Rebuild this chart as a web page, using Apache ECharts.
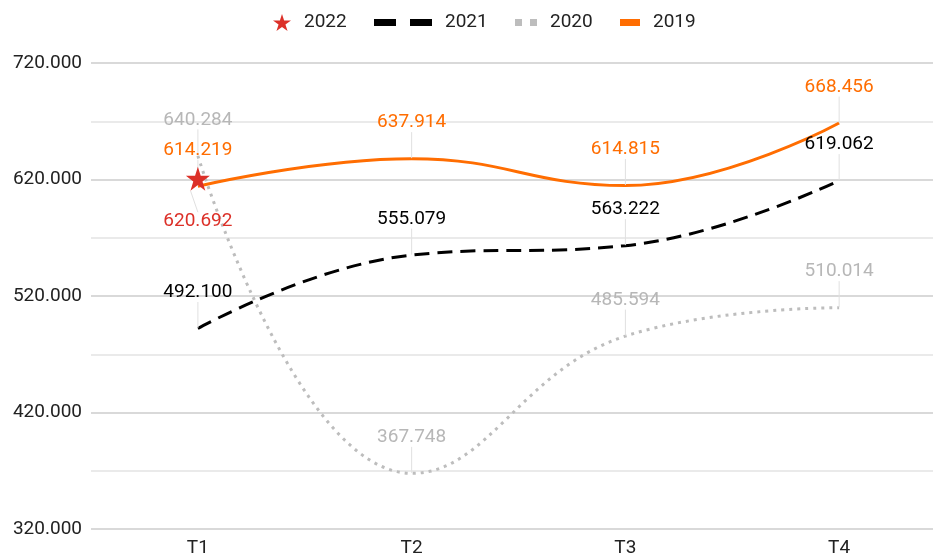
<!DOCTYPE html>
<html>
<head>
<meta charset="utf-8">
<script src="https://cdn.jsdelivr.net/npm/echarts@6/dist/echarts.min.js"></script>
<style>
html,body{margin:0;padding:0;background:#fff;overflow:hidden;width:933px;height:559px;}
#chart{width:960px;height:559px;}
</style>
</head>
<body>
<div id="chart"></div>
<script>
const categories = ['T1', 'T2', 'T3', 'T4'];
const values2022 = [620.692, null, null, null];
const values2021 = [492.1, 555.079, 563.222, 619.062];
const values2020 = [640.284, 367.748, 485.594, 510.014];
const values2019 = [614.219, 637.914, 614.815, 668.456];
const yMin = 320, yMax = 720, yStep = 100;

const FONT = 'Roboto';
const FS = 19;
const STAR = 'path://M50,0L61.2,34.5L97.6,34.5L68.2,55.9L79.4,90.5L50,69.1L20.6,90.5L31.8,55.9L2.4,34.5L38.8,34.5Z';
const C22 = '#dc3028', C21 = '#000000', C20 = '#bdbdbd', C19 = '#ff6d01';
const fmt = v => (v == null ? '' : Number(v).toFixed(3));

function lbl(color) {
  return {
    show: true, position: 'inside', color: color,
    fontFamily: FONT, fontSize: FS,
    formatter: p => fmt(p.value)
  };
}
const leader = { show: true, lineStyle: { color: '#e0e0e0', width: 1 } };

function legendItem(name, left, w, h, icon, color) {
  return {
    left: left, top: 8, itemWidth: w, itemHeight: h,
    textStyle: { fontFamily: FONT, fontSize: FS, color: '#222', padding: [0, 0, 0, 8] },
    data: [{ name: name, icon: icon, itemStyle: { color: color, borderWidth: 0 } }],
    selectedMode: false
  };
}

const chart = echarts.init(document.getElementById('chart'), null, { renderer: 'canvas' });
chart.setOption({
  animation: false,
  backgroundColor: '#fff',
  legend: [
    legendItem('2022', 268, 18, 18, STAR, C22),
    legendItem('2021', 369, 58, 7, 'path://M0,0h22v7h-22z M36,0h22v7h-22z', C21),
    legendItem('2020', 510, 22, 7, 'path://M0,0h7v7h-7z M15,0h7v7h-7z', C20),
    legendItem('2019', 615, 20, 7, 'rect', C19)
  ],
  grid: { left: 91, top: 63, width: 855, height: 466 },
  xAxis: {
    type: 'category', data: categories, boundaryGap: true,
    axisLine: { show: false }, axisTick: { show: false },
    axisLabel: { color: '#222', fontFamily: FONT, fontSize: FS, margin: 10 }
  },
  yAxis: {
    type: 'value', min: yMin, max: yMax, interval: yStep,
    axisLine: { show: false }, axisTick: { show: false },
    axisLabel: { color: '#222', fontFamily: FONT, fontSize: FS, margin: 9, formatter: v => fmt(v) },
    splitLine: { lineStyle: { color: '#cccccc', width: 1.5 } },
    minorTick: { show: false, splitNumber: 2 },
    minorSplitLine: { show: true, lineStyle: { color: '#e4e4e4', width: 1.5 } }
  },
  series: [
    {
      name: '2020', type: 'line', data: values2020, smooth: 0.45,
      symbol: 'circle', symbolSize: 1, showSymbol: true,
      itemStyle: { color: 'rgba(0,0,0,0)' },
      lineStyle: { color: C20, width: 3, type: [3, 5] },
      label: lbl('#b7b7b7'), labelLayout: { dy: -36 }, labelLine: leader
    },
    {
      name: '2021', type: 'line', data: values2021, smooth: 0.45,
      symbol: 'circle', symbolSize: 1, showSymbol: true,
      itemStyle: { color: 'rgba(0,0,0,0)' },
      lineStyle: { color: C21, width: 3, type: [15, 8] },
      label: lbl('#000'), labelLayout: { dy: -36 }, labelLine: leader
    },
    {
      name: '2019', type: 'line', data: values2019, smooth: 0.45,
      symbol: 'circle', symbolSize: 1, showSymbol: true,
      itemStyle: { color: 'rgba(0,0,0,0)' },
      lineStyle: { color: C19, width: 3 },
      label: lbl(C19), labelLayout: { dy: -36 }, labelLine: leader
    },
    {
      name: '2022', type: 'line', data: values2022,
      symbol: STAR, symbolSize: 24, showSymbol: true,
      itemStyle: { color: C22 },
      lineStyle: { width: 0 },
      label: lbl(C22), labelLayout: { dy: 43 }, labelLine: leader
    }
  ]
});
</script>
</body>
</html>
